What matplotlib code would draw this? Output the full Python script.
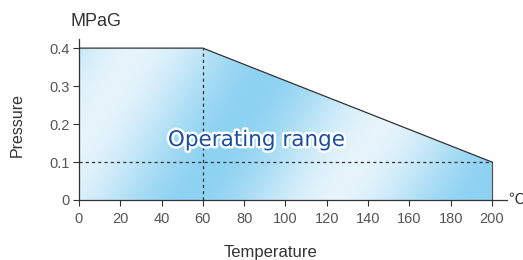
import numpy as np
import matplotlib
matplotlib.use("Agg")
import matplotlib.pyplot as plt
import matplotlib.patheffects as pe
from matplotlib.colors import LinearSegmentedColormap
from matplotlib.patches import Polygon

# operating boundary (temperature degC, pressure MPaG)
temp = [0, 60, 200]
pres = [0.4, 0.4, 0.1]
xticks = list(range(0, 201, 20))
yticks = [0, 0.1, 0.2, 0.3, 0.4]
ytick_labels = ["0", "0.1", "0.2", "0.3", "0.4"]

fig = plt.figure(figsize=(5.23, 2.60), dpi=100)
ax = fig.add_axes([0.151, 0.2308, 0.8184, 0.6192])
ax.set_xlim(0, 207.3)
ax.set_ylim(0, 0.424)

# gradient fill clipped to the operating region
poly_pts = [(temp[0], 0)] + list(zip(temp, pres)) + [(temp[-1], 0)]
poly = Polygon(poly_pts, closed=True, facecolor="none", edgecolor="none")
ax.add_patch(poly)
gx = np.linspace(0, 200, 400)
gy = np.linspace(0, 0.4, 200)
GX, GY = np.meshgrid(gx, gy)
px = 79 + GX * 413 / 200
py = 200 - GY * 152 / 0.4
t = px + 0.6 * py
val = 0.5 + 0.5 * np.cos(2 * np.pi * (t - 165) / 290)
cmap = LinearSegmentedColormap.from_list("bl", ["#8ed2f2", "#e6f4fb"])
im = ax.imshow(val, extent=[0, 200, 0, 0.4], origin="lower", cmap=cmap,
               aspect="auto", interpolation="bilinear", zorder=1)
im.set_clip_path(poly)

line_c = "#333333"
ax.plot(temp, pres, color=line_c, lw=0.9, zorder=3)
ax.plot([temp[-1], temp[-1]], [0, pres[-1]], color="#555555", lw=0.9, zorder=3)
ax.plot([temp[1], temp[1]], [0, pres[1]], color=line_c, lw=0.9, ls=(0, (2.5, 2.5)), zorder=3)
ax.plot([0, temp[-1]], [pres[-1], pres[-1]], color=line_c, lw=0.9, ls=(0, (2.5, 2.5)), zorder=3)

ax.text(86, 0.158, "Operating range", color="#1a4fa3", fontsize=15.5,
        family="DejaVu Sans", ha="center", va="center", zorder=4,
        path_effects=[pe.withStroke(linewidth=3.5, foreground="white")])

for s in ["top", "right"]:
    ax.spines[s].set_visible(False)
for s in ["left", "bottom"]:
    ax.spines[s].set_color(line_c)
    ax.spines[s].set_linewidth(0.9)
    ax.spines[s].set_zorder(5)

ax.set_xticks(xticks)
ax.set_yticks(yticks)
ax.set_yticklabels(ytick_labels)
ax.tick_params(length=4, width=0.8, color=line_c, labelcolor="#555555",
               labelsize=10.5, pad=3)
ax.tick_params(axis="x", pad=5)
for lab in ax.get_xticklabels() + ax.get_yticklabels():
    lab.set_family("Liberation Sans")

fig.text(96 / 523, 1 - 22 / 260, "MPaG", ha="center", va="center",
         fontsize=13, color="#333333", family="Liberation Sans")
fig.text(17 / 523, 1 - 124.5 / 260, "Pressure", ha="center", va="center",
         rotation=90, fontsize=11.5, color="#333333", family="Liberation Sans")
fig.text(270 / 523, 1 - 253 / 260, "Temperature", ha="center", va="center",
         fontsize=12, color="#333333", family="Liberation Sans")
fig.text(516 / 523, 1 - 199 / 260, "℃", ha="center", va="center",
         fontsize=11, color="#333333", family=["Noto Sans CJK JP", "DejaVu Sans"])

fig.savefig("out.png", dpi=100)
